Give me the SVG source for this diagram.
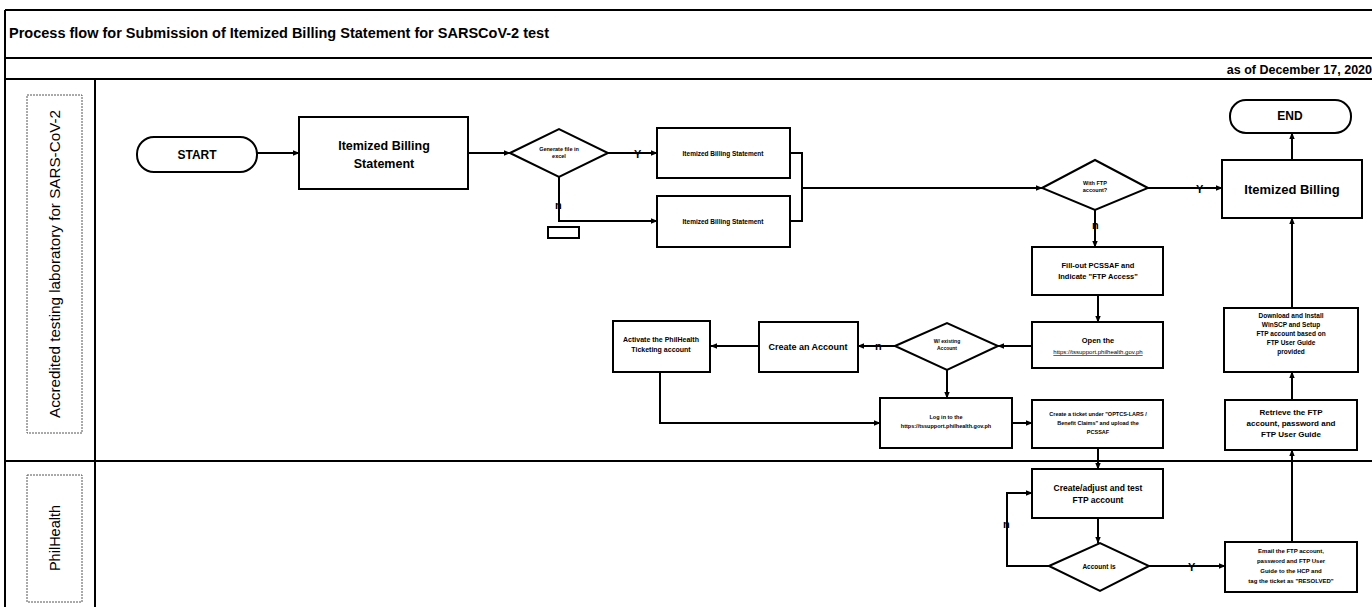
<svg xmlns="http://www.w3.org/2000/svg" width="1372" height="607" viewBox="0 0 1372 607">
<style>
.frame{fill:none;stroke:#000;stroke-width:2}
.box{fill:#fff;stroke:#000;stroke-width:2}
.lanebox{fill:none;stroke:#555;stroke-width:1;stroke-dasharray:2 1}
.conn{fill:none;stroke:#000;stroke-width:2}
text{font-family:"Liberation Sans",Arial,sans-serif;fill:#000}
.t{text-anchor:middle}
.b{font-weight:bold}
.lbl{font-size:11px;font-weight:bold}
</style>
<defs>
<marker id="arr" viewBox="0 0 10 10" refX="9" refY="5" markerWidth="7" markerHeight="7" markerUnits="userSpaceOnUse" orient="auto">
<path d="M0,1 L10,5 L0,9 z" fill="#000"/>
</marker>
</defs>
<rect width="1372" height="607" fill="#fff"/>
<g id="frame">
<path class="frame" d="M5,10 H1372 M5,10 V607 M5,58 H1372 M5,79 H1372 M95,79 V607 M5,461 H1372"/>
<text x="9" y="38" font-size="14" class="b" textLength="540" lengthAdjust="spacingAndGlyphs">Process flow for Submission of Itemized Billing Statement for SARSCoV-2 test</text>
<text x="1372" y="74" font-size="12.5" class="b" text-anchor="end">as of December 17, 2020</text>
</g>
<g id="lane-lab">
<rect class="lanebox" x="27" y="95" width="55" height="338"/>
<text class="t" font-size="14.5" textLength="308" lengthAdjust="spacingAndGlyphs" transform="translate(60,264) rotate(-90)">Accredited testing laboratory for SARS-CoV-2</text>
</g>
<g id="lane-philhealth">
<rect class="lanebox" x="27" y="475" width="55" height="127"/>
<text class="t" font-size="14.5" transform="translate(60,538) rotate(-90)">PhilHealth</text>
</g>
<g id="connectors">
<path class="conn" marker-end="url(#arr)" d="M257,153 H299"/>
<path class="conn" marker-end="url(#arr)" d="M468,153 H510"/>
<path class="conn" marker-end="url(#arr)" d="M608,153 H657"/>
<path class="conn" marker-end="url(#arr)" d="M559,177 V221 H657"/>
<path class="conn" d="M790,153 H802 V221 H790"/>
<path class="conn" marker-end="url(#arr)" d="M802,188 H1042"/>
<path class="conn" marker-end="url(#arr)" d="M1148,188 H1222"/>
<path class="conn" marker-end="url(#arr)" d="M1292,160 V133"/>
<path class="conn" marker-end="url(#arr)" d="M1095,210 V247"/>
<path class="conn" marker-end="url(#arr)" d="M1098,295 V322"/>
<path class="conn" marker-end="url(#arr)" d="M1032,346 H998"/>
<path class="conn" marker-end="url(#arr)" d="M895,346 H858"/>
<path class="conn" marker-end="url(#arr)" d="M759,346 H711"/>
<path class="conn" marker-end="url(#arr)" d="M660,372 V423 H880"/>
<path class="conn" marker-end="url(#arr)" d="M947,370 V398"/>
<path class="conn" marker-end="url(#arr)" d="M1012,423 H1032"/>
<path class="conn" marker-end="url(#arr)" d="M1098,448 V469"/>
<path class="conn" marker-end="url(#arr)" d="M1098,518 V543"/>
<path class="conn" marker-end="url(#arr)" d="M1049,566 H1007 V493 H1032"/>
<path class="conn" marker-end="url(#arr)" d="M1149,566 H1225"/>
<path class="conn" marker-end="url(#arr)" d="M1292,542 V450"/>
<path class="conn" marker-end="url(#arr)" d="M1292,400 V372"/>
<path class="conn" marker-end="url(#arr)" d="M1292,308 V218"/>
<text class="lbl" x="634" y="158">Y</text>
<text class="lbl" x="555" y="209">n</text>
<text class="lbl" x="1196" y="193">Y</text>
<text class="lbl" x="1092" y="229">n</text>
<text class="lbl" x="875" y="350">n</text>
<text class="lbl" x="1003" y="528">n</text>
<text class="lbl" x="1188" y="571">Y</text>
</g>
<g id="start">
<rect class="box" x="137" y="137" width="120" height="35" rx="17"/>
<text class="t b" x="197" y="159" font-size="12">START</text>
</g>
<g id="ibs">
<rect class="box" x="299" y="117" width="169" height="72"/>
<text class="t b" x="384" y="150" font-size="12.5">Itemized Billing</text>
<text class="t b" x="384" y="168" font-size="12.5">Statement</text>
</g>
<g id="d1">
<path class="box" d="M510,153 L559,129 L608,153 L559,177 Z"/>
<text class="t b" x="559" y="151" font-size="5.5">Generate file in</text>
<text class="t b" x="559" y="158" font-size="5.5">excel</text>
</g>
<g id="box1">
<rect class="box" x="657" y="128" width="133" height="50"/>
<text class="t b" x="723" y="156" font-size="6.5">Itemized Billing Statement</text>
</g>
<g id="box2">
<rect class="box" x="657" y="196" width="133" height="51"/>
<text class="t b" x="723" y="224" font-size="6.5">Itemized Billing Statement</text>
</g>
<rect class="box" x="548" y="227" width="31" height="11" stroke-width="1.5"/>
<g id="d2">
<path class="box" d="M1042,188 L1095,160 L1148,188 L1095,210 Z"/>
<text class="t b" x="1095" y="185" font-size="5.5">With FTP</text>
<text class="t b" x="1095" y="192" font-size="5.5">account?</text>
</g>
<g id="ib">
<rect class="box" x="1222" y="160" width="140" height="58"/>
<text class="t b" x="1292" y="194" font-size="13">Itemized Billing</text>
</g>
<g id="end">
<rect class="box" x="1230" y="100" width="121" height="33" rx="16"/>
<text class="t b" x="1290" y="120" font-size="12">END</text>
</g>
<g id="fill">
<rect class="box" x="1032" y="247" width="131" height="48"/>
<text class="t b" x="1098" y="268" font-size="7.5">Fill-out PCSSAF and</text>
<text class="t b" x="1098" y="279" font-size="7.5">Indicate "FTP Access"</text>
</g>
<g id="open">
<rect class="box" x="1032" y="322" width="131" height="46"/>
<text class="t b" x="1098" y="343" font-size="7.5">Open the</text>
<text class="t" x="1098" y="354" font-size="6" text-decoration="underline">https://tssupport.philhealth.gov.ph</text>
</g>
<g id="d3">
<path class="box" d="M895,346 L947,323 L998,346 L947,370 Z"/>
<text class="t b" x="947" y="343" font-size="5">W/ existing</text>
<text class="t b" x="947" y="350" font-size="5">Account</text>
</g>
<g id="create">
<rect class="box" x="759" y="322" width="99" height="50"/>
<text class="t b" x="808" y="350" font-size="9">Create an Account</text>
</g>
<g id="activate">
<rect class="box" x="613" y="321" width="97" height="51"/>
<text class="t b" x="661" y="342" font-size="7">Activate the PhilHealth</text>
<text class="t b" x="661" y="352" font-size="7">Ticketing account</text>
</g>
<g id="login">
<rect class="box" x="880" y="398" width="132" height="50"/>
<text class="t b" x="946" y="419" font-size="5.5">Log in to the</text>
<text class="t b" x="946" y="428" font-size="5.5">https://tssupport.philhealth.gov.ph</text>
</g>
<g id="ticket">
<rect class="box" x="1032" y="400" width="131" height="48"/>
<text class="t b" x="1098" y="416" font-size="5.5">Create a ticket under "OPTCS-LARS /</text>
<text class="t b" x="1098" y="425" font-size="5.5">Benefit Claims" and upload the</text>
<text class="t b" x="1098" y="434" font-size="5.5">PCSSAF</text>
</g>
<g id="download">
<rect class="box" x="1224" y="308" width="134" height="64"/>
<text class="t b" x="1291" y="318" font-size="6.5">Download and Install</text>
<text class="t b" x="1291" y="327" font-size="6.5">WinSCP and Setup</text>
<text class="t b" x="1291" y="336" font-size="6.5">FTP account based on</text>
<text class="t b" x="1291" y="345" font-size="6.5">FTP User Guide</text>
<text class="t b" x="1291" y="354" font-size="6.5">provided</text>
</g>
<g id="retrieve">
<rect class="box" x="1225" y="400" width="132" height="50"/>
<text class="t b" x="1291" y="415" font-size="8">Retrieve the FTP</text>
<text class="t b" x="1291" y="426" font-size="8">account, password and</text>
<text class="t b" x="1291" y="437" font-size="8">FTP User Guide</text>
</g>
<g id="adjust">
<rect class="box" x="1032" y="469" width="131" height="49"/>
<text class="t b" x="1098" y="491" font-size="8.5">Create/adjust and test</text>
<text class="t b" x="1098" y="503" font-size="8.5">FTP account</text>
</g>
<g id="d4">
<path class="box" d="M1049,566 L1100,543 L1149,566 L1100,591 Z"/>
<text class="t b" x="1099" y="569" font-size="6.5">Account is</text>
</g>
<g id="email">
<rect class="box" x="1225" y="542" width="132" height="50"/>
<text class="t b" x="1291" y="553" font-size="6">Email the FTP account,</text>
<text class="t b" x="1291" y="563" font-size="6">password and FTP User</text>
<text class="t b" x="1291" y="573" font-size="6">Guide to the HCP and</text>
<text class="t b" x="1291" y="583" font-size="6">tag the ticket as "RESOLVED"</text>
</g>
</svg>
